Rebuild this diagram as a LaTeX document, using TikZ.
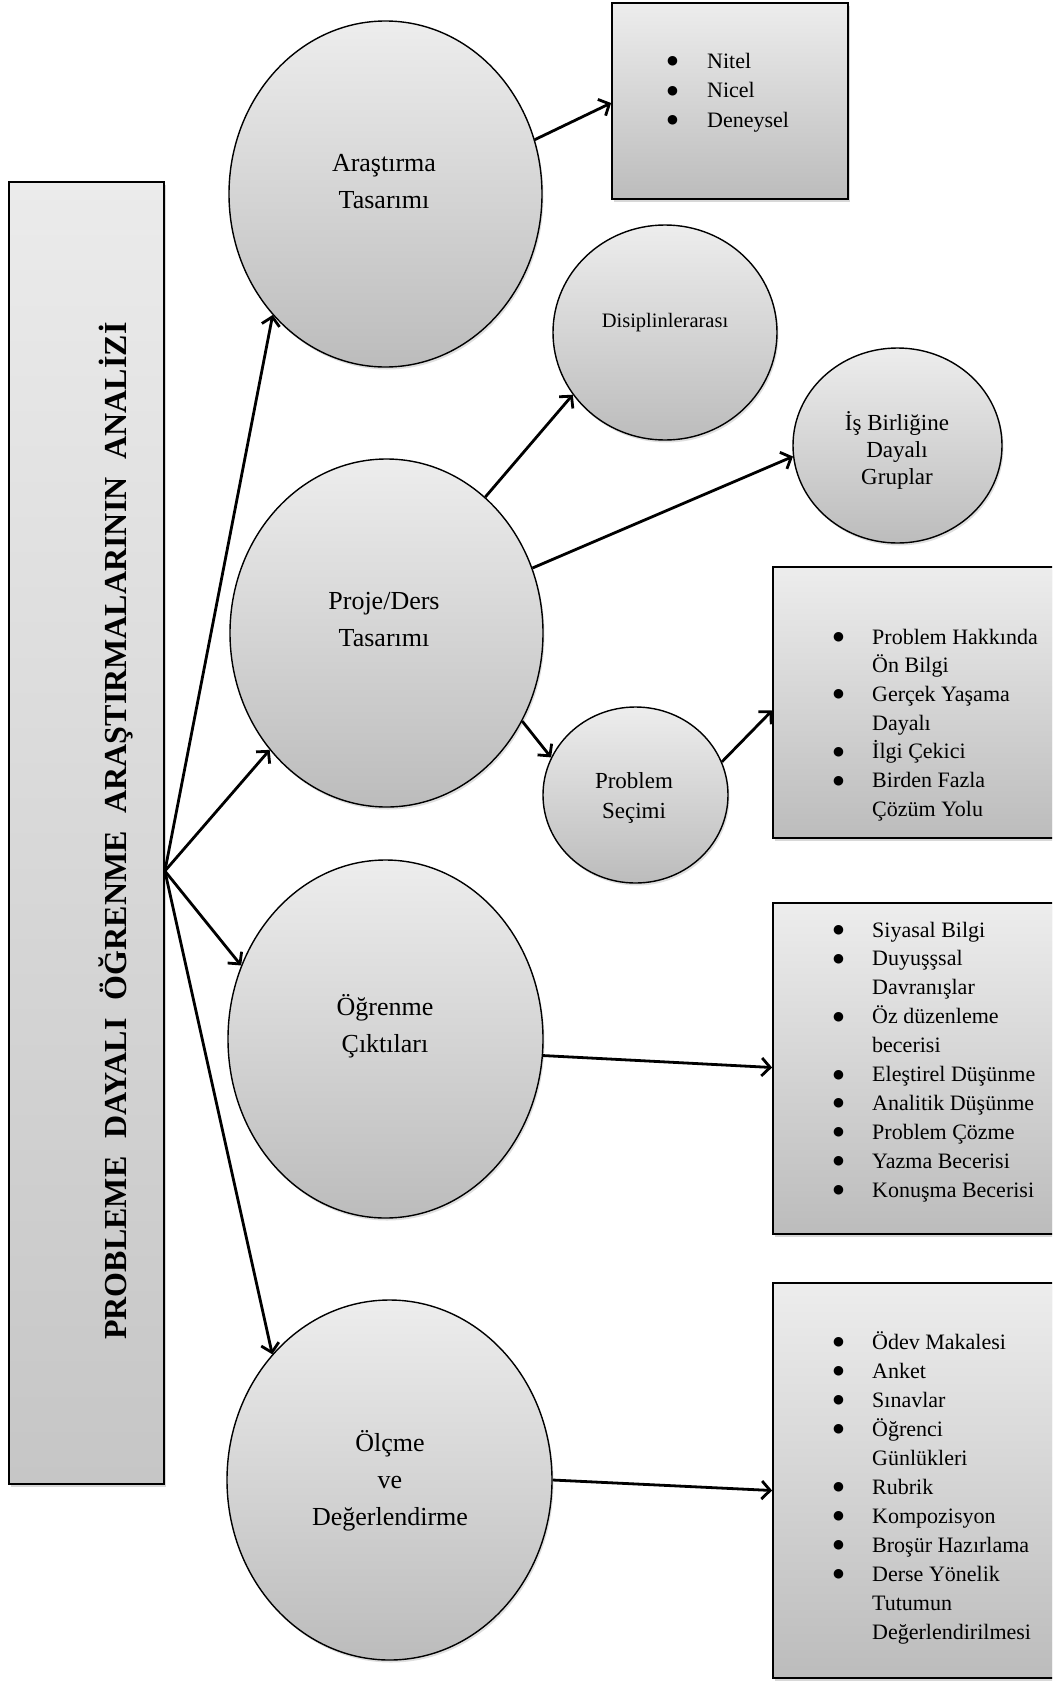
\documentclass[tikz,border=0pt]{standalone}
\usepackage{fontspec}
\setmainfont{Liberation Serif}
\newfontfamily\symfont{DejaVu Sans}
\usetikzlibrary{shapes.geometric,arrows.meta,shadows}
\definecolor{gtop}{HTML}{EDEDED}
\definecolor{gbot}{HTML}{BCBCBC}
\definecolor{bartop}{HTML}{EBEBEB}
\definecolor{barbot}{HTML}{C6C6C6}
\newcommand{\bul}{\raisebox{3.5pt}{\symfont\fontsize{12.5}{12.5}\selectfont ●}}
\newcommand{\wgap}{\hspace{18pt}}
\begin{document}
\begin{tikzpicture}[x=1pt,y=-1pt,
  circ/.style={ellipse, draw=black, line width=1.4pt, top color=gtop, bottom color=gbot,
    inner sep=0pt, drop shadow={opacity=0.25,shadow xshift=1.5pt,shadow yshift=-2.5pt}},
  gbox/.style={rectangle, draw=black, line width=1.8pt, top color=gtop, bottom color=gbot,
    inner sep=0pt, drop shadow={opacity=0.3,shadow xshift=2pt,shadow yshift=-3pt}},
  biglbl/.style={align=center, inner sep=0pt, font=\fontsize{26}{37}\selectfont},
  midlbl/.style={align=center, inner sep=0pt, font=\fontsize{23}{27}\selectfont},
  lst/.style={anchor=base west, inner sep=0pt, align=left},
  arr/.style={line width=2.8pt, -{Straight Barb[length=8.5pt,width=18pt]}}
]
\clip (0,0) rectangle (1052,1681);
\fill[white] (0,0) rectangle (1052,1681);

% left bar
\node[gbox, top color=bartop, bottom color=barbot, minimum width=155pt, minimum height=1302pt] (bar) at (86.5,833) {};
\node[rotate=90, inner sep=0pt, font=\fontsize{32}{38}\selectfont\bfseries] (bartxt) at (116,831)
  {PROBLEME\wgap DAYALI\wgap ÖĞRENME\wgap ARAŞTIRMALARININ\wgap ANALİZİ};
\coordinate (hub) at ([yshift=-38pt]bar.east);

% circles
\node[circ, minimum width=313pt, minimum height=346pt] (ara) at (385.5,194) {};
\node[circ, minimum width=313pt, minimum height=348pt] (proje) at (386.5,633) {};
\node[circ, minimum width=224pt, minimum height=215pt] (disip) at (665,332.5) {};
\node[circ, minimum width=209pt, minimum height=195pt] (isb) at (897.5,445.5) {};
\node[circ, minimum width=185pt, minimum height=176pt] (psec) at (635.5,795) {};
\node[circ, minimum width=315pt, minimum height=358pt] (ogr) at (385.5,1039) {};
\node[circ, minimum width=325pt, minimum height=360pt] (olc) at (389.5,1480) {};

% circle labels
\node[biglbl] (aratxt) at (384,181.5) {Araştırma\\Tasarımı};
\node[biglbl] (projetxt) at (384,620) {Proje/Ders\\Tasarımı};
\node[biglbl] (ogrtxt) at (385,1026.5) {Öğrenme\\Çıktıları};
\node[biglbl] (olctxt) at (390,1480.5) {Ölçme\\ve\\Değerlendirme};
\node[inner sep=0pt, font=\fontsize{20.5}{24}\selectfont] (disiptxt) at (665,323) {Disiplinlerarası};
\node[midlbl] (isbtxt) at (897,450) {İş Birliğine\\Dayalı\\Gruplar};
\node[midlbl, font=\fontsize{23}{30}\selectfont] (psectxt) at (634,798) {Problem\\Seçimi};

% boxes
\node[gbox, minimum width=236pt, minimum height=196pt] (topbox) at (730,101) {};
\node[gbox, minimum width=287pt, minimum height=271pt] (probbox) at (916.5,702.5) {};
\node[gbox, minimum width=287pt, minimum height=331pt] (outbox) at (916.5,1068.5) {};
\node[gbox, minimum width=287pt, minimum height=395pt] (assbox) at (916.5,1480.5) {};

% lists
\node[lst, font=\fontsize{22}{29.5}\selectfont] (toplist) at (667,68) {%
\begin{tabular}[t]{@{}p{40pt}@{}l@{}}
\bul & Nitel\\
\bul & Nicel\\
\bul & Deneysel
\end{tabular}};
\node[lst, font=\fontsize{22}{28.7}\selectfont] (problist) at (833,644) {%
\begin{tabular}[t]{@{}p{39pt}@{}l@{}}
\bul & Problem Hakkında\\
 & Ön Bilgi\\
\bul & Gerçek Yaşama\\
 & Dayalı\\
\bul & İlgi Çekici\\
\bul & Birden Fazla\\
 & Çözüm Yolu
\end{tabular}};
\node[lst, font=\fontsize{22}{28.9}\selectfont] (outlist) at (833,937) {%
\begin{tabular}[t]{@{}p{39pt}@{}l@{}}
\bul & Siyasal Bilgi\\
\bul & Duyuşşsal\\
 & Davranışlar\\
\bul & Öz düzenleme\\
 & becerisi\\
\bul & Eleştirel Düşünme\\
\bul & Analitik Düşünme\\
\bul & Problem Çözme\\
\bul & Yazma Becerisi\\
\bul & Konuşma Becerisi
\end{tabular}};
\node[lst, font=\fontsize{22}{29}\selectfont] (asslist) at (833,1349) {%
\begin{tabular}[t]{@{}p{39pt}@{}l@{}}
\bul & Ödev Makalesi\\
\bul & Anket\\
\bul & Sınavlar\\
\bul & Öğrenci\\
 & Günlükleri\\
\bul & Rubrik\\
\bul & Kompozisyon\\
\bul & Broşür Hazırlama\\
\bul & Derse Yönelik\\
 & Tutumun\\
 & Değerlendirilmesi
\end{tabular}};

% arrows
\draw[arr] (hub) -- (ara.227.1);
\draw[arr] (hub) -- (proje.225.9);
\draw[arr] (hub) -- (ogr.153.5);
\draw[arr] (hub) -- (olc.133.4);
\draw[arr] (ara.20.5) -- ([yshift=-2pt]topbox.west);
\draw[arr] (proje.54.1) -- (disip.214.1);
\draw[arr] (proje.24.7) -- (isb.186.8);
\draw[arr] (proje.-33.3) -- (psec.156.5);
\draw[arr] (psec.21.8) -- ([yshift=-8pt]probbox.west);
\draw[arr] (ogr.-6.5) -- ([yshift=1pt]outbox.west);
\draw[arr] (olc.-0.7) -- ([yshift=-10pt]assbox.west);
\end{tikzpicture}
\end{document}
